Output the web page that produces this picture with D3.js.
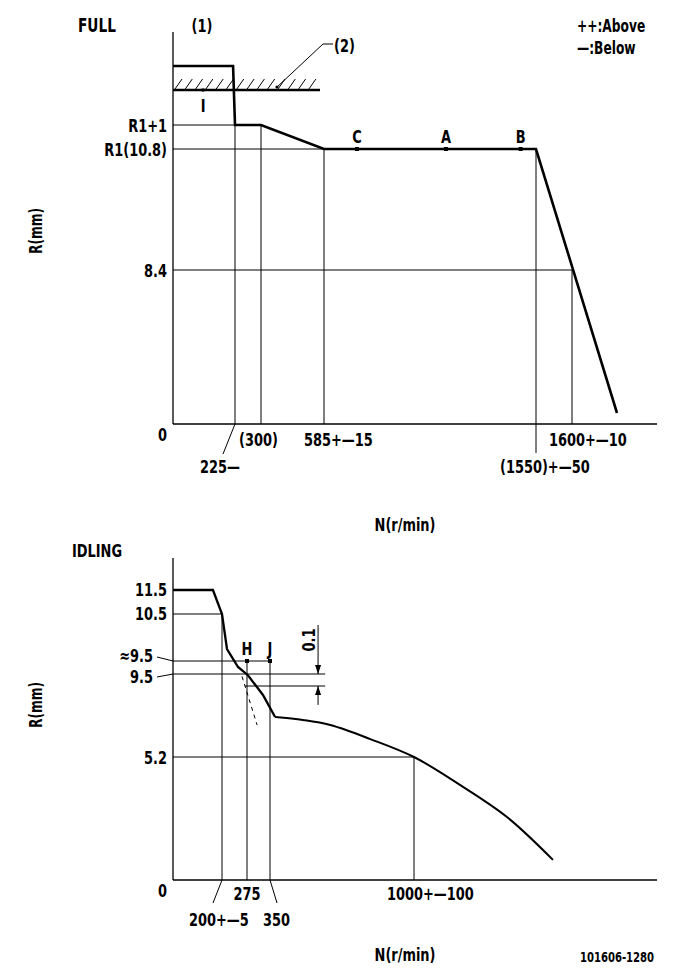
<!DOCTYPE html>
<html><head><meta charset="utf-8">
<script src="https://cdn.jsdelivr.net/npm/d3@7"></script>
<style>
body{margin:0;background:#fff}
text{font-family:"Liberation Sans Narrow","DejaVu Sans Condensed",sans-serif;font-weight:bold;fill:#000;font-size:18px}
</style>
</head><body><svg id="c" width="685" height="979"></svg>
<script>
// ---------- DATA ----------
// FULL chart
const fullN = [0, 218, 225, 300, 585, 1550, 1700];
const fullR = [13.2, 13.2, 11.8, 11.8, 10.8, 10.8, 0.6];
const fullPointNames = ["C", "A", "B"];
const fullPointN = [735, 1140, 1480];
const fullPointR = 10.8;
const stopperR = 12.5;          // (2) stopper line
const stopperEndN = 567;
const markIN = 109;             // "I" mark
const fullYTickValues = [11.8, 10.8, 8.4, 0];
const fullYTickLabels = ["R1+1", "R1(10.8)", "8.4", "0"];
const fullXTickValues = [225, 300, 585, 1550, 1600];
const fullXTickLabels = ["225\u2014", "(300)", "585+\u201415", "(1550)+\u201450", "1600+\u201410"];
const fullXTickTopR = [11.8, 11.8, 10.8, 10.8, 8.4];

// IDLING chart
const idleSteepN = [0, 163, 200, 215, 248, 278, 327, 373];
const idleSteepR = [11.5, 11.5, 10.5, 9.83, 9.554, 9.49, 8.87, 7.57];
const idleTailN = [373, 499, 622, 803, 1000, 1208, 1421, 1629];
const idleTailR = [7.57, 7.39, 7.09, 6.26, 5.2, 4.02, 2.66, 0.85];
const idleDashN = [260, 308];
const idleDashR = [9.48, 7.09];
const idlePointNames = ["H", "J"];
const idlePointN = [275, 350];
const idlePointR = 9.6;
const idleYTickValues = [11.5, 10.5, 9.6, 9.5, 5.2, 0];
const idleYTickLabels = ["11.5", "10.5", "\u22489.5", "9.5", "5.2", "0"];
const idleXTickValues = [200, 275, 350, 1000];
const idleXTickLabels = ["200+\u20145", "275", "350", "1000+\u2014100"];
const idleXTickTopR = [10.5, 9.6, 9.6, 5.2];
const dimN = 567;               // 0.1 dimension
const dimTopR = 10.29, dimBotR = 8.28, dimHiR = 9.5, dimLoR = 9.4;
const dimEndN = 599;

// ---------- DRAW ----------
const svg = d3.select("#c");
const black = "#000";
const SX = 0.8;

const xF = d3.scaleLinear().domain([0, 225, 300, 585, 1550, 1600, 1700, 1900])
  .range([173, 235, 261, 324, 536, 572, 617, 657]);
const yF = d3.scaleLinear().domain([0, 8.4, 10.8, 11.8, 12.5, 13.2, 14.6])
  .range([424, 270, 149, 125, 90, 66, 32]);

const gF = svg.append("g");
function ln(g, x1, y1, x2, y2, w) {
  g.append("line").attr("x1", x1).attr("y1", y1).attr("x2", x2).attr("y2", y2)
    .attr("stroke", black).attr("stroke-width", w || 1);
}
function tx(g, x, y, s, anchor, size, rot) {
  return g.append("text")
    .attr("transform", `translate(${x},${y})` + (rot ? ` rotate(${rot})` : "") + ` scale(${SX},1)`)
    .attr("text-anchor", anchor || "start")
    .style("font-size", (size || 18) + "px").text(s);
}

// axes
ln(gF, xF(0), yF(14.6), xF(0), yF(0), 1.3);
ln(gF, xF(0), yF(0), xF(1900), yF(0), 1.3);

// reference lines
fullYTickValues.slice(0, 3).forEach((r, i) => {
  ln(gF, xF(0), yF(r), xF(fullXTickValues[[0, 2, 4][i]]), yF(r), 1);
});
fullXTickValues.forEach((n, i) => {
  ln(gF, xF(n), yF(0) + (n === 1550 ? 29 : 0), xF(n), yF(fullXTickTopR[i]), 1);
});
ln(gF, xF(225), yF(0), xF(225) - 12, yF(0) + 30, 1);

// y tick labels
fullYTickValues.forEach((r, i) => {
  tx(gF, 167, yF(r) + (i === 3 ? 17 : 7), fullYTickLabels[i], "end");
});
// x tick labels
const fullXOff = [-35, -22, -20, -36, -23];
const fullXRow = [49, 22, 22, 49, 22];
fullXTickValues.forEach((n, i) => {
  tx(gF, xF(n) + fullXOff[i], yF(0) + fullXRow[i], fullXTickLabels[i]);
});

// stopper (2) with hatching
ln(gF, xF(0), yF(stopperR), xF(stopperEndN), yF(stopperR), 2.5);
const hatchStarts = d3.range(xF(0) + 2, xF(stopperEndN) - 6, 10.3);
hatchStarts.forEach(h => ln(gF, h, yF(stopperR) - 1, h + 7, yF(stopperR) - 11, 1));
gF.append("path").attr("d", d3.line()([[277, 87], [323, 44], [333, 44]]))
  .attr("fill", "none").attr("stroke", black).attr("stroke-width", 1);
gF.append("circle").attr("cx", 277).attr("cy", 87).attr("r", 1.6).attr("fill", black);
tx(gF, 334, 52, "(2)");
tx(gF, 202, 32, "(1)", "middle");
gF.append("rect").attr("x", xF(markIN) - 1.5).attr("y", yF(stopperR) - 1.5).attr("width", 3).attr("height", 3);
tx(gF, xF(markIN), 112, "I", "middle");

// main curve
gF.append("path").datum(d3.zip(fullN, fullR))
  .attr("d", d3.line().x(d => xF(d[0])).y(d => yF(d[1])))
  .attr("fill", "none").attr("stroke", black).attr("stroke-width", 2.6).attr("stroke-linejoin", "miter");

fullPointN.forEach((n, i) => {
  gF.append("rect").attr("x", xF(n) - 2).attr("y", yF(fullPointR) - 2).attr("width", 4).attr("height", 4);
  tx(gF, xF(n), yF(fullPointR) - 6, fullPointNames[i], "middle");
});

tx(gF, 78, 32, "FULL", "start", 19);
tx(gF, 577, 32, "++:Above", "start", 17);
tx(gF, 577, 54, "\u2014:Below", "start", 17);
tx(gF, 405, 531, "N(r/min)", "middle", 18);
tx(gF, 42, 231, "R(mm)", "middle", 17, -90);

// IDLING
const xI = d3.scaleLinear().domain([0, 200, 275, 350, 1000, 2100])
  .range([173, 222, 247, 270, 414, 657]);
const yI = d3.scaleLinear().domain([0, 5.2, 9.4, 9.5, 9.6, 10.5, 11.5, 12.8])
  .range([880, 757, 686, 674, 661, 614, 590, 558]);
const gI = svg.append("g");

ln(gI, xI(0), yI(12.8), xI(0), yI(0), 1.3);
ln(gI, xI(0), yI(0), xI(2100), yI(0), 1.3);

ln(gI, xI(0), yI(10.5), xI(200), yI(10.5), 1);
ln(gI, xI(0), yI(9.6), xI(350), yI(9.6), 1);
ln(gI, xI(0), yI(9.5), xI(dimEndN), yI(9.5), 1);
ln(gI, xI(269), yI(9.4), xI(dimEndN), yI(9.4), 1);
ln(gI, xI(0), yI(5.2), xI(1000), yI(5.2), 1);
idleXTickValues.forEach((n, i) => ln(gI, xI(n), yI(0), xI(n), yI(idleXTickTopR[i]), 1));

const idleYLabX = [167, 167, 153, 153, 167, 167];
const idleYLabDy = [6, 6, 1, 9, 7, 17];
idleYTickValues.forEach((r, i) => tx(gI, idleYLabX[i], yI(r) + idleYLabDy[i], idleYTickLabels[i], "end"));
ln(gI, 157, 657, xI(0), yI(9.6), 1);
ln(gI, 157, 677, xI(0), yI(9.5), 1);

const idleXOff = [-33, 0, -7, -27];
const idleXRow = [46, 20, 46, 20];
const idleXAnchor = ["start", "middle", "start", "start"];
idleXTickValues.forEach((n, i) => tx(gI, xI(n) + idleXOff[i], yI(0) + idleXRow[i], idleXTickLabels[i], idleXAnchor[i]));
ln(gI, xI(200), yI(0), xI(200) - 9, yI(0) + 23, 1);
ln(gI, xI(350), yI(0), xI(350) + 7, yI(0) + 23, 1);

const dx = xI(dimN);
ln(gI, dx, yI(dimTopR), dx, yI(dimHiR), 1);
ln(gI, dx, yI(dimLoR), dx, yI(dimBotR), 1);
gI.append("path").attr("d", `M${dx - 3},${yI(dimHiR) - 9}L${dx + 3},${yI(dimHiR) - 9}L${dx},${yI(dimHiR)}Z`).attr("fill", black);
gI.append("path").attr("d", `M${dx - 3},${yI(dimLoR) + 9}L${dx + 3},${yI(dimLoR) + 9}L${dx},${yI(dimLoR)}Z`).attr("fill", black);
tx(gI, dx - 3, 640, "0.1", "middle", 18, -90);

gI.append("path").datum(d3.zip(idleSteepN, idleSteepR))
  .attr("d", d3.line().x(d => xI(d[0])).y(d => yI(d[1])))
  .attr("fill", "none").attr("stroke", black).attr("stroke-width", 2.3);
gI.append("path").datum(d3.zip(idleTailN, idleTailR))
  .attr("d", d3.line().x(d => xI(d[0])).y(d => yI(d[1])).curve(d3.curveCatmullRom))
  .attr("fill", "none").attr("stroke", black).attr("stroke-width", 2);
gI.append("path").datum(d3.zip(idleDashN, idleDashR))
  .attr("d", d3.line().x(d => xI(d[0])).y(d => yI(d[1])))
  .attr("fill", "none").attr("stroke", black).attr("stroke-width", 1).attr("stroke-dasharray", "4,4");

idlePointN.forEach((n, i) => {
  gI.append("rect").attr("x", xI(n) - 2).attr("y", yI(idlePointR) - 2).attr("width", 4).attr("height", 4);
  tx(gI, xI(n), yI(idlePointR) - 6, idlePointNames[i], "middle");
});

tx(gI, 72, 557, "IDLING", "start", 18);
tx(gI, 405, 961, "N(r/min)", "middle", 18);
tx(gI, 42, 705, "R(mm)", "middle", 17, -90);
tx(gI, 617, 962, "101606-1280", "middle", 14);
</script>
</body></html>
